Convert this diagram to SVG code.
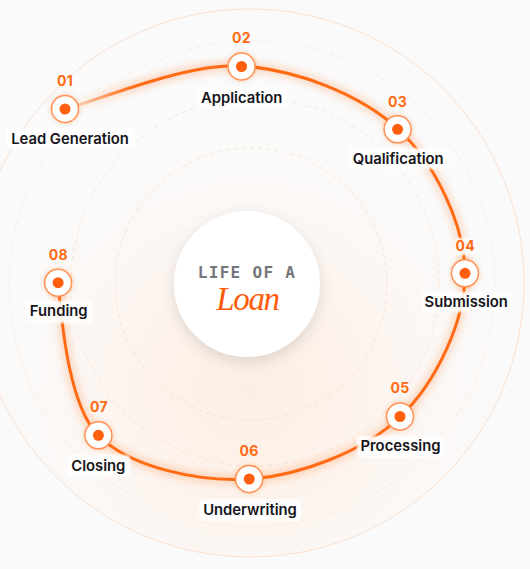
<svg xmlns="http://www.w3.org/2000/svg" width="530" height="569" viewBox="0 0 530 569">
  <defs>
    <radialGradient id="bgGlow" cx="250" cy="390" r="260" gradientUnits="userSpaceOnUse">
      <stop offset="0" stop-color="#fdeee3"/>
      <stop offset="0.4" stop-color="#fdf3ec"/>
      <stop offset="0.75" stop-color="#fbf8f6"/>
      <stop offset="1" stop-color="#fafafa"/>
    </radialGradient>
    <linearGradient id="fadeIn" x1="72" y1="106" x2="135" y2="86" gradientUnits="userSpaceOnUse">
      <stop offset="0" stop-color="#ff6a13" stop-opacity="0.2"/>
      <stop offset="1" stop-color="#ff6a13" stop-opacity="1"/>
    </linearGradient>
    <filter id="glow" x="-20%" y="-20%" width="140%" height="140%">
      <feGaussianBlur stdDeviation="4"/>
    </filter>
    <filter id="soft" x="-20%" y="-40%" width="140%" height="180%">
      <feGaussianBlur stdDeviation="1.2"/>
    </filter>
    <filter id="centerShadow" x="-40%" y="-40%" width="180%" height="180%">
      <feDropShadow dx="0" dy="5" stdDeviation="7" flood-color="#000" flood-opacity="0.12"/>
    </filter>
    <filter id="nodeGlow" x="-60%" y="-60%" width="220%" height="220%">
      <feDropShadow dx="0" dy="0" stdDeviation="2.5" flood-color="#ff6a13" flood-opacity="0.3"/>
    </filter>
    <style>
      .ring-solid { fill: none; stroke: #fcdcc6; stroke-width: 1; }
      .ring-dash { fill: none; stroke: #fbd3b8; stroke-width: 1; stroke-dasharray: 4 4; }
      .path-main { fill: none; stroke: #ff6a13; stroke-width: 3; stroke-linecap: round; }
      .path-glow { fill: none; stroke: #ff7a2a; stroke-width: 7; opacity: 0.35; filter: url(#glow); }
      .node-ring { fill: #ffffff; stroke: #ff9255; stroke-width: 1.5; filter: url(#nodeGlow); }
      .node-dot { fill: #ff5f0f; }
      .num { font-family: Inter, "Liberation Sans", sans-serif; font-weight: 700; font-size: 14px; fill: #ff6a13; text-anchor: middle; letter-spacing: 0.3px; }
      .label { font-family: Inter, "Liberation Sans", sans-serif; font-weight: 600; font-size: 14.8px; fill: #15151a; text-anchor: middle; }
      .lbg { fill: #ffffff; opacity: 0.9; filter: url(#soft); }
    </style>
  </defs>

  <rect x="0" y="0" width="530" height="569" fill="#fafafa"/>
  <circle cx="250" cy="283" r="274" fill="url(#bgGlow)"/>

  <g id="rings">
    <circle class="ring-solid" cx="250" cy="283" r="274" opacity="0.85"/>
    <circle class="ring-dash" cx="252" cy="284" r="243" opacity="0.4"/>
    <circle class="ring-dash" cx="255" cy="282" r="184" opacity="0.55"/>
    <circle class="ring-dash" cx="251" cy="284" r="136" opacity="0.6"/>
  </g>

  <g id="connectors">
    <path class="path-glow" d="M241,66 C296.5,69.3 360.7,94.5 398,129 C435.3,163.5 464.7,225 465,273 C465.3,321 436,382.7 400,417 C364,451.3 299.3,476 249,479 C198.7,482 129.8,467.7 98,435 C66.2,402.3 61,308 58,283"/>
    <path d="M65,109 C94.3,101.8 185.5,62.7 241,66" fill="none" stroke="url(#fadeIn)" stroke-width="7" opacity="0.35" filter="url(#glow)"/>
    <path d="M65,109 C94.3,101.8 185.5,62.7 241,66" fill="none" stroke="url(#fadeIn)" stroke-width="3" stroke-linecap="round"/>
    <path class="path-main" d="M241,66 C296.5,69.3 360.7,94.5 398,129 C435.3,163.5 464.7,225 465,273 C465.3,321 436,382.7 400,417 C364,451.3 299.3,476 249,479 C198.7,482 129.8,467.7 98,435 C66.2,402.3 61,308 58,283"/>
  </g>

  <g id="center">
    <circle cx="247" cy="284" r="73" fill="#ffffff" filter="url(#centerShadow)"/>
    <text x="247" y="277.5" text-anchor="middle" font-family="'DejaVu Sans Mono', 'Liberation Mono', monospace" font-size="16" font-weight="bold" letter-spacing="1.3" fill="#75757a">LIFE OF A</text>
    <text x="247.5" y="310" text-anchor="middle" font-family="'Liberation Serif', serif" font-style="italic" font-size="33" letter-spacing="-1.4" fill="#ff5a0a">Loan</text>
  </g>

  <g id="node-01">
    <circle class="node-ring" cx="65" cy="109" r="13.5"/>
    <circle class="node-dot" cx="65" cy="109" r="5.5"/>
    <text class="num" x="65" y="86">01</text>
    <rect class="lbg" x="6" y="128" width="129" height="20" rx="4"/>
    <text class="label" x="70" y="143.5">Lead Generation</text>
  </g>

  <g id="node-02">
    <circle class="node-ring" cx="241.5" cy="66.5" r="13.5"/>
    <circle class="node-dot" cx="241.5" cy="66.5" r="5.5"/>
    <text class="num" x="241.5" y="42.7">02</text>
    <rect class="lbg" x="197" y="87" width="90" height="22" rx="4"/>
    <text class="label" x="241.7" y="102.7">Application</text>
  </g>

  <g id="node-03">
    <circle class="node-ring" cx="397.6" cy="129.3" r="13.5"/>
    <circle class="node-dot" cx="397.6" cy="129.3" r="5.5"/>
    <text class="num" x="397.6" y="106.7">03</text>
    <rect class="lbg" x="348" y="148" width="101" height="21" rx="4"/>
    <text class="label" x="398.2" y="163.5">Qualification</text>
  </g>

  <g id="node-04">
    <rect class="lbg" x="455" y="238" width="21" height="17" rx="4"/>
    <circle class="node-ring" cx="465" cy="273.3" r="13.5"/>
    <circle class="node-dot" cx="465" cy="273.3" r="5.5"/>
    <text class="num" x="465.2" y="251">04</text>
    <rect class="lbg" x="421" y="292" width="91" height="20" rx="4"/>
    <text class="label" x="466.2" y="307.3">Submission</text>
  </g>

  <g id="node-05">
    <circle class="node-ring" cx="400" cy="416.5" r="13.5"/>
    <circle class="node-dot" cx="400" cy="416.5" r="5.5"/>
    <text class="num" x="400" y="393.3">05</text>
    <rect class="lbg" x="357" y="436" width="87" height="22" rx="4"/>
    <text class="label" x="400.5" y="451.4">Processing</text>
  </g>

  <g id="node-06">
    <circle class="node-ring" cx="249.2" cy="479" r="13.5"/>
    <circle class="node-dot" cx="249.2" cy="479" r="5.5"/>
    <text class="num" x="249" y="456">06</text>
    <rect class="lbg" x="199" y="499" width="102" height="22" rx="4"/>
    <text class="label" x="250" y="514.7">Underwriting</text>
  </g>

  <g id="node-07">
    <circle class="node-ring" cx="98.4" cy="435.3" r="13.5"/>
    <circle class="node-dot" cx="98.4" cy="435.3" r="5.5"/>
    <text class="num" x="99" y="412">07</text>
    <rect class="lbg" x="67" y="455" width="63" height="22" rx="4"/>
    <text class="label" x="98.3" y="470.7">Closing</text>
  </g>

  <g id="node-08">
    <circle class="node-ring" cx="58.1" cy="282.7" r="13.5"/>
    <circle class="node-dot" cx="58.1" cy="282.7" r="5.5"/>
    <text class="num" x="58.3" y="260">08</text>
    <rect class="lbg" x="26" y="301" width="66" height="22" rx="4"/>
    <text class="label" x="58.7" y="316">Funding</text>
  </g>
</svg>
